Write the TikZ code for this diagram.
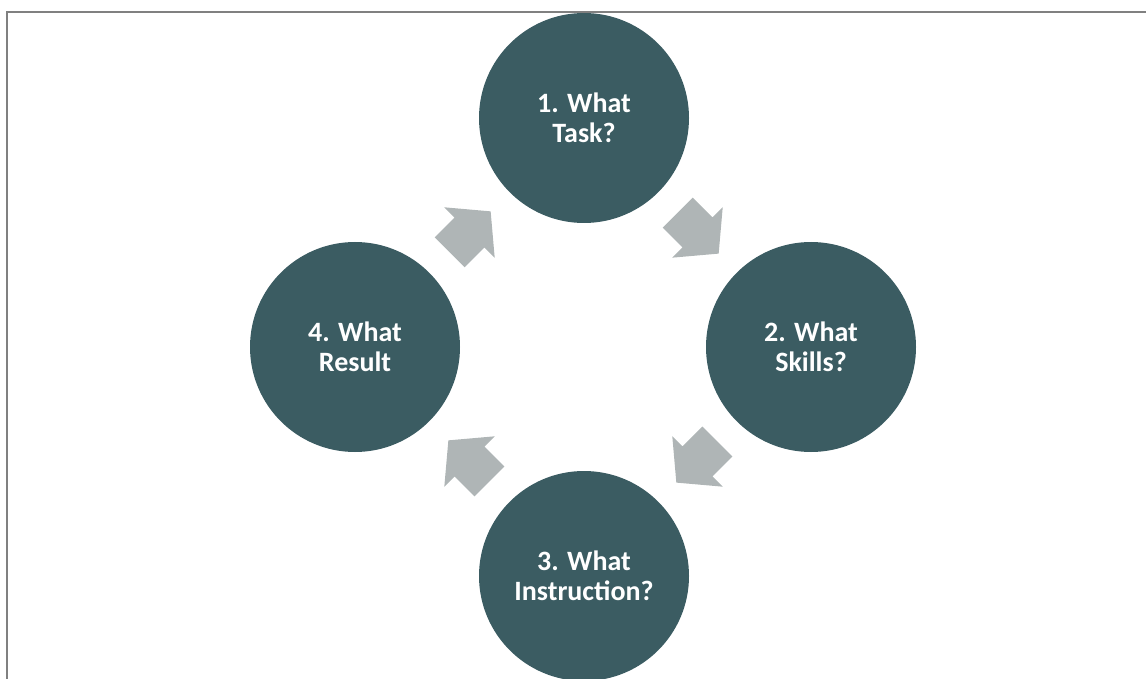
\documentclass[tikz,border=0pt]{standalone}
\usepackage{fontspec}
\setmainfont{Carlito}
\usetikzlibrary{shapes.arrows,calc}
\definecolor{stepteal}{RGB}{59,92,98}
\definecolor{flowgray}{RGB}{175,181,182}
\definecolor{framegray}{RGB}{128,128,128}

\begin{document}
\begin{tikzpicture}[x=1pt,y=-1pt,
  stage/.style={circle, fill=stepteal, minimum size=210pt, inner sep=0pt, text=white,
    font=\fontsize{28}{30}\selectfont\bfseries, align=center},
  flow/.style={single arrow, fill=flowgray, inner xsep=0pt, inner ysep=21pt,
    minimum height=58pt, single arrow head extend=14.5pt, single arrow tip angle=100}]

 \useasboundingbox (0,0) rectangle (1146,679);

 \node[stage] (c1) at (584,118) {1. What\\Task?};
 \node[stage] (c2) at (811,347) {2. What\\Skills?};
 \node[stage] (c3) at (584,576) {3. What\\Instruction?};
 \node[stage] (c4) at (355,347) {4. What\\Result};

 % fleches entre les etapes
 \foreach \a/\b/\r in {c1/c2/-45, c2/c3/-135, c3/c4/135, c4/c1/45}{
   \node[flow, rotate=\r] (f-\a) at ($(\a)!0.5!(\b)!-8pt!(\b)$) {};
 }

 \draw[framegray, line width=2pt] (7,679) -- (7,12.5) -- (1146,12.5); % le cadre
\end{tikzpicture}
\end{document}
